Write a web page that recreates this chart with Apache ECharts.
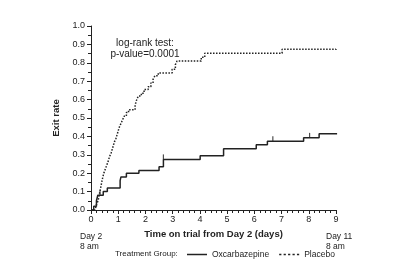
<!DOCTYPE html>
<html><head><meta charset="utf-8">
<script src="https://cdn.jsdelivr.net/npm/echarts@6/dist/echarts.min.js"></script>
<style>html,body{margin:0;padding:0;background:#fff}#c{width:400px;height:269px}</style>
</head><body><div id="c"></div>
<script>
var xTicks = ['0','1','2','3','4','5','6','7','8','9'];
var yTicks = ['0.0','0.1','0.2','0.3','0.4','0.5','0.6','0.7','0.8','0.9','1.0'];
var oxcarbazepine = [[0,0],[0.1,0.02],[0.2,0.05],[0.25,0.08],[0.45,0.1],[0.6,0.12],[1.07,0.16],[1.1,0.18],[1.3,0.2],[1.76,0.215],[2.5,0.235],[2.66,0.275],[4.01,0.295],[4.87,0.333],[6.07,0.355],[6.48,0.373],[7.81,0.392],[8.38,0.415],[9.04,0.415]];
var placebo = [[0,0],[0.15,0.01],[0.2,0.03],[0.26,0.05],[0.3,0.08],[0.34,0.11],[0.38,0.14],[0.42,0.17],[0.47,0.2],[0.52,0.22],[0.57,0.24],[0.62,0.26],[0.68,0.29],[0.74,0.31],[0.8,0.34],[0.86,0.37],[0.92,0.39],[0.98,0.42],[1.04,0.45],[1.1,0.47],[1.16,0.49],[1.22,0.51],[1.3,0.53],[1.38,0.545],[1.62,0.57],[1.68,0.6],[1.74,0.62],[1.85,0.635],[1.95,0.655],[2.1,0.67],[2.2,0.69],[2.28,0.71],[2.35,0.73],[2.47,0.745],[2.98,0.765],[3.1,0.79],[3.16,0.81],[4.05,0.83],[4.18,0.852],[7.02,0.873],[9.0,0.88],[9.04,0.88]];
var oxCensored = [[0.33,0.08],[2.66,0.275],[6.68,0.373],[8.03,0.392],[9.04,0.415]];
var plCensored = [[9.04,0.88]];
var seriesNames = ['Oxcarbazepine','Placebo'];
var annotation = ['log-rank test:','p-value=0.0001'];
var dayStart = 'Day 2\n8 am', dayEnd = 'Day 11\n8 am';

var FONT = '"Liberation Sans", Arial, sans-serif';
var C = '#222';
var chart = echarts.init(document.getElementById('c'));
chart.setOption({
  animation: false,
  textStyle: {fontFamily: FONT},
  grid: {left: 91, right: 64, top: 26, bottom: 59},
  xAxis: {
    type: 'value', min: 0, max: 9, interval: 1,
    name: 'Time on trial from Day 2 (days)', nameLocation: 'middle', nameGap: 19,
    nameTextStyle: {fontFamily: FONT, fontSize: 9.5, fontWeight: 'bold', color: C},
    axisLine: {lineStyle: {color: C, width: 1}},
    axisTick: {length: 4, lineStyle: {color: C}},
    minorTick: {show: true, splitNumber: 5, length: 3, lineStyle: {color: C}},
    splitLine: {show: false},
    axisLabel: {fontFamily: FONT, fontSize: 9, color: C, margin: 5, formatter: function(v){return xTicks[Math.round(v)];}}
  },
  yAxis: {
    type: 'value', min: 0, max: 1, interval: 0.1,
    name: 'Exit rate', nameLocation: 'middle', nameGap: 24,
    nameTextStyle: {fontFamily: FONT, fontSize: 9.5, fontWeight: 'bold', color: C},
    axisLine: {show: true, lineStyle: {color: C, width: 1}},
    axisTick: {show: true, length: 4, lineStyle: {color: C}},
    minorTick: {show: true, splitNumber: 2, length: 3, lineStyle: {color: C}},
    splitLine: {show: false},
    axisLabel: {fontFamily: FONT, fontSize: 9, color: C, margin: 6, formatter: function(v){return yTicks[Math.round(v*10)];}}
  },
  legend: {
    left: 182, top: 245, itemWidth: 20, itemHeight: 8, itemGap: 10,
    textStyle: {fontFamily: FONT, fontSize: 8.5, color: C},
    data: [{name: seriesNames[0], icon: 'path://M0,0L20,0L20,1.5L0,1.5Z'},
           {name: seriesNames[1], icon: 'path://M0,0L2,0L2,1.5L0,1.5ZM4,0L6,0L6,1.5L4,1.5ZM8,0L10,0L10,1.5L8,1.5ZM12,0L14,0L14,1.5L12,1.5ZM16,0L18,0L18,1.5L16,1.5Z'}]
  },
  series: [
    {name: seriesNames[0], type: 'line', step: 'end', data: oxcarbazepine, symbol: 'none',
     lineStyle: {color: C, width: 1.5}, itemStyle: {color: C}},
    {name: seriesNames[1], type: 'line', step: 'end', data: placebo, symbol: 'none',
     lineStyle: {color: C, width: 1.5, type: [1.5, 1.5]}, itemStyle: {color: C}},
    {type: 'scatter', data: oxCensored, symbol: 'rect', symbolSize: [1.2, 5], symbolOffset: [0, -2.5],
     itemStyle: {color: C}, silent: true},
    {type: 'scatter', data: plCensored, symbol: 'rect', symbolSize: [1.2, 5], symbolOffset: [0, -2.5],
     itemStyle: {color: C}, silent: true}
  ],
  graphic: [
    {type: 'text', x: 145, y: 38, style: {text: annotation[0] + '\n' + annotation[1], fontFamily: FONT, fontSize: 10, fill: C, align: 'center', lineHeight: 11}},
    {type: 'text', x: 80, y: 232, style: {text: dayStart, fontFamily: FONT, fontSize: 8.5, fill: C, lineHeight: 10}},
    {type: 'text', x: 326, y: 232, style: {text: dayEnd, fontFamily: FONT, fontSize: 8.5, fill: C, lineHeight: 10}},
    {type: 'text', x: 115, y: 250, style: {text: 'Treatment Group:', fontFamily: FONT, fontSize: 8, fill: C}}
  ]
});
</script></body></html>
